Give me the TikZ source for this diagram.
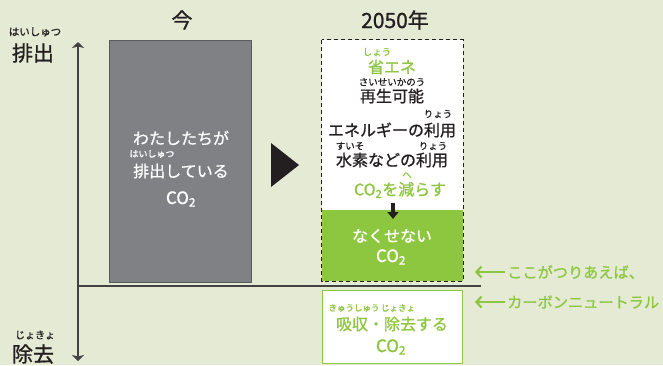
\documentclass[tikz,border=0pt]{standalone}
\usepackage{fontspec}
\setmainfont{Noto Sans CJK JP}[FakeBold=0.9]
\usetikzlibrary{arrows.meta,positioning}
\definecolor{bg}{RGB}{229,234,212}
\definecolor{leaf}{RGB}{141,198,63}
\definecolor{ink}{RGB}{35,31,32}
\definecolor{slab}{RGB}{128,129,133}
\newcommand{\cotwo}{CO\textsubscript{2}}
\newcommand{\fs}[1]{\fontsize{#1}{#1}\selectfont}

\begin{document}
\begin{tikzpicture}[x=1pt,y=-1pt]
	\tikzstyle{word} = [inner sep=0pt, text=ink, font=\fs{16}]
	\tikzstyle{ruby} = [inner sep=0pt, text=ink, font=\fs{9.5}]
	\tikzstyle{big} = [inner sep=0pt, text=ink, font=\fs{21}]
	\tikzstyle{pillar} = [draw, minimum width=142pt, minimum height=242pt, inner sep=0pt]
	\tikzstyle{pointer} = [leaf, line width=2.2pt, -{Straight Barb[length=5pt,width=11pt]}]
	
	% Background and frame of the page
	\fill[bg] (0,0) rectangle (663,365);
	\useasboundingbox (0,0) rectangle (663,365);
	
	% Axis: emissions up, removal down
	\coordinate (axtop) at (78,42);
	\coordinate (axbot) at (78,361);
	\coordinate (zero) at (78,286);
	\coordinate (zeroend) at (481,286);
	\draw[ink!85, line width=1.2pt, {Stealth[width=12pt,length=6pt,inset=1.5pt]}-{Stealth[width=12pt,length=6pt,inset=1.5pt]}] (axtop) -- (axbot);
	\draw[ink!85, line width=1.2pt] (zero) -- (zeroend);
	
	\node[ruby, font=\fs{10.5}] (emitr) at (35,32) {はいしゅつ};
	\node[big] (emit) at (33,53) {排出};
	\node[ruby, font=\fs{10}] (remover) at (35,335) {じょきょ};
	\node[big] (remove) at (33,354) {除去};
	
	% Column titles
	\node[big] (now) at (182,20) {今};
	\node[big] (year) at (395,20) {2050年};
	
	% Today: grey bar
	\node[pillar, fill=slab, draw=slab!70!black] (today) at (180,161) {};
	\node[word, text=white] (we) at (181,138) {わたしたちが};
	\node[ruby, text=white, font=\fs{9}] (wer) at (152,154) {はいしゅつ};
	\node[word, text=white] (emitting) at (181,171) {排出している};
	\node[word, text=white, font=\fs{17}] (co2now) at (181,199) {\cotwo};
	
	% Arrow between the two columns
	\fill[ink] (271,143) -- (299,165) -- (271,187) -- cycle;
	
	% 2050: dashed bar with the green part left over
	\node[pillar, fill=white, draw=none, minimum width=141pt, minimum height=241pt] (future) at (392.5,160.5) {};
	\node[fill=leaf, minimum width=141pt, minimum height=71pt, inner sep=0pt] (rest) at (392.5,245.5) {};
	\draw[ink, line width=1.2pt, dash pattern=on 4pt off 3pt] (future.north west) rectangle (future.south east);
	
	\node[ruby, text=leaf] (saver) at (377,52) {しょう};
	\node[word, text=leaf] (save) at (392,67) {省エネ};
	\node[ruby] (renewr) at (392,82) {さいせいかのう};
	\node[word] (renew) at (392,96) {再生可能};
	\node[ruby] (user1) at (438,114) {りょう};
	\node[word] (energy) at (392,130) {エネルギーの利用};
	\node[ruby] (h2r) at (350,146) {すいそ};
	\node[ruby] (user2) at (433,146) {りょう};
	\node[word] (h2) at (392,160) {水素などの利用};
	\node[ruby, text=leaf] (cutr) at (407,175) {へ};
	\node[word, text=leaf] (cut) at (400,190) {\cotwo を減らす};
	
	\coordinate (dropA) at (393,203);
	\coordinate (dropB) at (393,219);
	\draw[ink, line width=4pt, -{Triangle[width=11pt,length=7pt]}] (dropA) -- (dropB);
	
	\node[word, text=white] (cannot) at (392,236) {なくせない};
	\node[word, text=white, font=\fs{17}] (co2rest) at (391,257) {\cotwo};
	
	% Below zero: removal box
	\node[draw=leaf, line width=1.5pt, fill=white, minimum width=140pt, minimum height=73pt, inner sep=0pt] (absorb) at (392.5,327) {};
	\node[ruby, text=leaf, font=\fs{8.5}] (absr1) at (354,308) {きゅうしゅう};
	\node[ruby, text=leaf, font=\fs{8.5}] (absr2) at (398,308) {じょきょ};
	\node[word, text=leaf] (abs) at (392,324) {吸収・除去する};
	\node[word, text=leaf, font=\fs{17}] (co2abs) at (391,347) {\cotwo};
	
	% Notes on the right
	\node[word, text=leaf, anchor=west, font=\fs{15.2}] (balance) at (507,272) {ここがつりあえば、};
	\node[word, text=leaf, anchor=west, font=\fs{15.2}] (neutral) at (507,302) {カーボンニュートラル};
	\coordinate (tipA) at (475,272);
	\coordinate (tipB) at (475,302);
	\draw[pointer, shorten <=2pt] (balance.west) -- (tipA);
	\draw[pointer, shorten <=2pt] (neutral.west) -- (tipB);
	
\end{tikzpicture}
\end{document}
